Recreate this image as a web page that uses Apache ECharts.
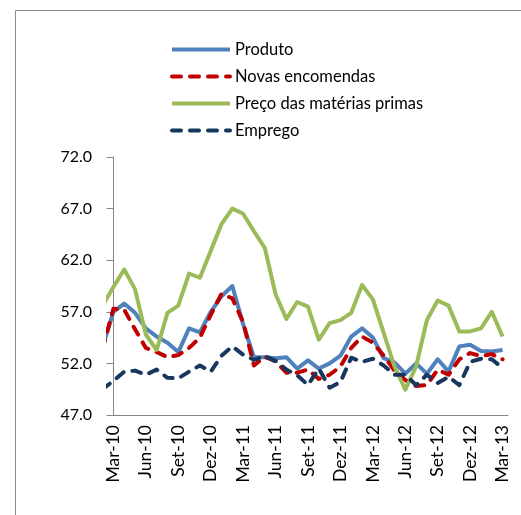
<!DOCTYPE html>
<html>
<head>
<meta charset="utf-8">
<script src="https://cdn.jsdelivr.net/npm/echarts@6/dist/echarts.min.js"></script>
<style>
  html, body { margin: 0; padding: 0; background: #fff; }
  #chart { width: 521px; height: 515px; }
</style>
</head>
<body>
<div id="chart"></div>
<script>
// meses (o primeiro, Fev-10, fica fora da área e só aparece cortado no eixo)
var months = ['Fev-10', 'Mar-10', 'Abr-10', 'Mai-10', 'Jun-10', 'Jul-10', 'Ago-10', 'Set-10', 'Out-10', 'Nov-10', 'Dez-10',
  'Jan-11', 'Fev-11', 'Mar-11', 'Abr-11', 'Mai-11', 'Jun-11', 'Jul-11', 'Ago-11', 'Set-11', 'Out-11', 'Nov-11', 'Dez-11',
  'Jan-12', 'Fev-12', 'Mar-12', 'Abr-12', 'Mai-12', 'Jun-12', 'Jul-12', 'Ago-12', 'Set-12', 'Out-12', 'Nov-12', 'Dez-12',
  'Jan-13', 'Fev-13', 'Mar-13'];

var produto = [53.6, 57.0, 57.8, 56.9, 55.4, 54.6, 54.0, 53.1, 55.4, 55.0, 57.0, 58.5, 59.5, 55.8, 52.6, 52.6, 52.5, 52.6,
  51.5, 52.3, 51.5, 52.0, 52.75, 54.6, 55.4, 54.5, 52.5, 52.1, 51.0, 52.0, 51.0, 52.4, 51.2, 53.65, 53.8, 53.2, 53.15, 53.3];
var novasEncomendas = [53.4, 57.3, 57.2, 55.3, 53.5, 53.1, 52.6, 52.8, 53.5, 54.5, 56.7, 58.75, 58.3, 56.0, 51.8, 52.65, 52.2, 51.1,
  51.1, 51.4, 50.5, 50.9, 51.7, 53.5, 54.6, 54.0, 52.75, 51.3, 50.4, 49.8, 49.9, 51.4, 50.9, 52.4, 53.0, 52.7, 52.9, 52.4];
var precoMaterias = [57.6, 59.4, 61.1, 59.2, 54.8, 53.3, 56.9, 57.6, 60.7, 60.3, 62.9, 65.5, 67.0, 66.5, 64.8, 63.2, 58.7, 56.3,
  57.95, 57.5, 54.3, 55.9, 56.2, 56.9, 59.6, 58.2, 54.95, 51.7, 49.45, 51.7, 56.2, 58.1, 57.6, 55.1, 55.1, 55.4, 57.0, 54.6];
var emprego = [49.5, 50.3, 51.2, 51.3, 50.9, 51.4, 50.6, 50.55, 51.2, 51.8, 51.2, 52.75, 53.65, 52.85, 52.35, 52.7, 52.25, 51.4,
  50.85, 49.9, 51.5, 49.65, 50.2, 52.55, 52.15, 52.45, 51.8, 50.9, 50.9, 49.9, 50.9, 50.1, 50.7, 49.9, 52.15, 52.45, 52.4, 51.55];

var yMin = 47, yMax = 72, yStep = 5;

// posição no eixo: Mar-10 = 0
function pairs(arr) {
  return arr.map(function (v, i) { return [i - 1, v]; });
}

var axisGray = '#868686';
var font = 'Lato, "Open Sans", sans-serif';

function serie(name, values, color, dashed) {
  return {
    name: name,
    type: 'line',
    xAxisIndex: 1,
    data: pairs(values),
    symbol: 'none',
    clip: true,
    lineStyle: {
      color: color,
      width: 4,
      type: dashed ? [9, 9] : 'solid',
      cap: dashed ? 'round' : 'butt',
      join: 'round'
    },
    itemStyle: { color: color }
  };
}

var myChart = echarts.init(document.getElementById('chart'));
myChart.setOption({
  animation: false,
  graphic: [{
    type: 'rect',
    shape: { x: 15.5, y: 10.5, width: 600, height: 600 },
    style: { fill: 'none', stroke: '#8c8c8c', lineWidth: 1 }
  }],
  legend: {
    orient: 'vertical',
    left: 165,
    top: 36,
    itemWidth: 58,
    itemHeight: 14,
    itemGap: 10,
    itemStyle: { opacity: 0 },
    lineStyle: { width: 4 },
    textStyle: { fontFamily: font, fontSize: 16.5, color: '#000' },
    data: ['Produto', 'Novas encomendas', 'Preço das matérias primas', 'Emprego']
  },
  grid: {
    left: 108,
    top: 157,
    width: 400,
    height: 258
  },
  xAxis: [{
    type: 'category',
    data: months.slice(1),
    boundaryGap: true,
    axisLine: { lineStyle: { color: axisGray, width: 1 } },
    axisTick: { interval: 2, length: 6, lineStyle: { color: axisGray } },
    axisLabel: {
      interval: 2,
      rotate: 90,
      margin: 10,
      color: '#000',
      fontFamily: font,
      fontSize: 17.5
    },
    splitLine: { show: false }
  }, {
    type: 'value',
    min: -0.5,
    max: months.length - 1.5,
    show: false
  }],
  yAxis: {
    type: 'value',
    min: yMin,
    max: yMax,
    interval: yStep,
    axisLine: { show: true, lineStyle: { color: axisGray, width: 1 } },
    axisTick: { show: true, length: 7, lineStyle: { color: axisGray } },
    axisLabel: {
      margin: 16,
      color: '#000',
      fontFamily: font,
      fontSize: 16,
      formatter: function (v) { return v.toFixed(1); }
    },
    splitLine: { show: false }
  },
  series: [
    serie('Produto', produto, '#4F81BD', false),
    serie('Novas encomendas', novasEncomendas, '#C00000', true),
    serie('Preço das matérias primas', precoMaterias, '#9BBB59', false),
    serie('Emprego', emprego, '#17375E', true)
  ]
});
</script>
</body>
</html>
